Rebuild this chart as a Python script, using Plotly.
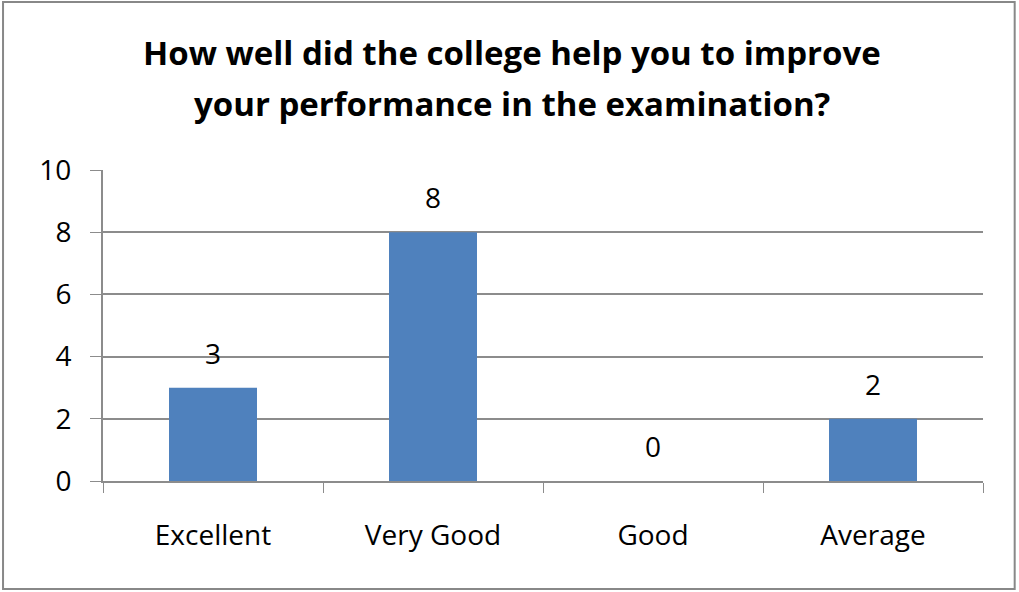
import plotly.graph_objects as go

categories = ["Excellent", "Very Good", "Good", "Average"]
values = [3, 8, 0, 2]
y_ticks = [0, 2, 4, 6, 8, 10]
title_lines = ["How well did the college help you to improve",
               "your performance in the examination?"]

FONT = "Open Sans"
BAR = "#4F81BD"
GRID = "#8C8C8C"

fig = go.Figure()
fig.add_trace(go.Bar(x=categories, y=values, marker=dict(color=BAR, line=dict(width=0)),
                     width=0.4, hoverinfo="x+y"))

annotations = []
for c, v in zip(categories, values):
    annotations.append(dict(x=c, y=v, xref="x", yref="y", text=str(v), showarrow=False,
                            yanchor="bottom", yshift=14,
                            font=dict(family=FONT, size=28, color="#000")))
annotations.append(dict(x=0.465, y=1.379, xref="paper", yref="paper", text=title_lines[0],
                        showarrow=False, xanchor="center", yanchor="middle",
                        font=dict(family=FONT, size=33, color="#000", weight="bold")))
annotations.append(dict(x=0.465, y=1.215, xref="paper", yref="paper", text=title_lines[1],
                        showarrow=False, xanchor="center", yanchor="middle",
                        font=dict(family=FONT, size=33, color="#000", weight="bold")))

fig.update_layout(
    width=1019, height=592,
    margin=dict(l=103, r=36, t=170, b=111, pad=0),
    paper_bgcolor="white", plot_bgcolor="white",
    showlegend=False, bargap=0.6,
    annotations=annotations,
    shapes=[dict(type="rect", xref="paper", yref="paper",
                 x0=-0.1136, x1=1.036, y0=-0.347, y1=1.540,
                 line=dict(color="#888888", width=2), fillcolor="rgba(0,0,0,0)", layer="below")],
    xaxis=dict(type="category", tickson="boundaries", ticks="outside", ticklen=10,
               tickcolor=GRID, showline=True, linecolor=GRID, linewidth=2,
               showgrid=False, tickfont=dict(family=FONT, size=28, color="#000"),
               ticklabelstandoff=28, fixedrange=True),
    yaxis=dict(range=[0, 10], tickvals=y_ticks, ticks="outside", ticklen=11,
               tickcolor=GRID, showline=True, linecolor=GRID, linewidth=2,
               showgrid=True, gridcolor=GRID, gridwidth=1.5, zeroline=False,
               tickfont=dict(family=FONT, size=28, color="#000"),
               ticklabelstandoff=13, fixedrange=True),
)

fig.write_html("out.html", config={"displayModeBar": False},
               post_script="document.body.style.margin='0';document.body.style.overflow='hidden';")
